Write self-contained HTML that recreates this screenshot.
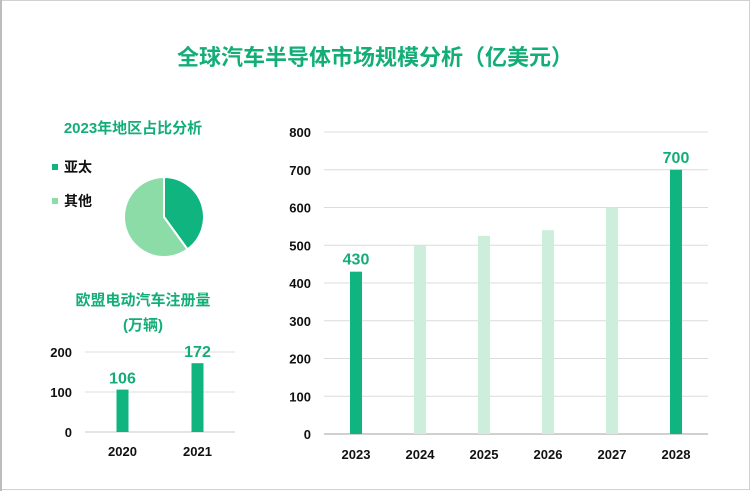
<!DOCTYPE html>
<html><head><meta charset="utf-8"><style>
body{margin:0;background:#fff;}
#wrap{position:relative;width:751px;height:491px;overflow:hidden;font-family:"Liberation Sans","Noto Sans CJK SC",sans-serif;}
</style></head><body>
<div id="wrap">
<svg id="svg" width="751" height="491" xmlns="http://www.w3.org/2000/svg" style="position:absolute;left:0;top:0">
<rect x="0.5" y="0.5" width="749" height="489" fill="#fff" stroke="#d0d0d0"/>
<rect x="0" y="0" width="2" height="491" fill="#bdbdbd"/>
<text x="375" y="65" text-anchor="middle" font-size="22" font-weight="bold" fill="#13ae78" font-family="Liberation Sans,Noto Sans CJK SC,sans-serif">全球汽车半导体市场规模分析（亿美元）</text>
<text x="133" y="133" text-anchor="middle" font-size="15" font-weight="bold" fill="#13ae78" font-family="Liberation Sans,Noto Sans CJK SC,sans-serif">2023年地区占比分析</text>
<rect x="52" y="164" width="6" height="6" fill="#10b47e"/>
<text x="64" y="172" font-size="14" font-weight="bold" fill="#111" font-family="Liberation Sans,Noto Sans CJK SC,sans-serif">亚太</text>
<rect x="52" y="198" width="6" height="6" fill="#8cdca7"/>
<text x="64" y="206" font-size="14" font-weight="bold" fill="#111" font-family="Liberation Sans,Noto Sans CJK SC,sans-serif">其他</text>
<text x="143" y="305" text-anchor="middle" font-size="15" font-weight="bold" fill="#13ae78" font-family="Liberation Sans,Noto Sans CJK SC,sans-serif">欧盟电动汽车注册量</text>
<text x="143" y="330" text-anchor="middle" font-size="15" font-weight="bold" fill="#13ae78" font-family="Liberation Sans,Noto Sans CJK SC,sans-serif">(万辆)</text>
<g id="pie"></g><g id="small"></g><g id="main"></g>
</svg>
</div>
<script>
const pieLabels=["亚太","其他"];
const pieValues=[40,60];
const smallCats=["2020","2021"];
const smallValues=[106,172];
const smallTicks=[0,100,200];
const mainCats=["2023","2024","2025","2026","2027","2028"];
const mainValues=[430,500,525,540,600,700];
const mainLabeled=[true,false,false,false,false,true];
const mainTicks=[0,100,200,300,400,500,600,700,800];
const NS="http://www.w3.org/2000/svg";
const FONT="Liberation Sans,Noto Sans CJK SC,sans-serif";
function mk(parent,tag,attrs){const e=document.createElementNS(NS,tag);for(const k in attrs)e.setAttribute(k,attrs[k]);parent.appendChild(e);return e;}
// pie
(function(){
const g=document.getElementById('pie');const cx=164,cy=217,r=40;
const colors=["#10b47e","#8cdca7"];const tot=pieValues.reduce((a,b)=>a+b,0);
let a0=0;
pieValues.forEach((v,i)=>{const a1=a0+v/tot*2*Math.PI;
const x0=cx+r*Math.sin(a0),y0=cy-r*Math.cos(a0),x1=cx+r*Math.sin(a1),y1=cy-r*Math.cos(a1);
const p=mk(g,'path',{d:`M${cx},${cy}L${x0},${y0}A${r},${r} 0 ${a1-a0>Math.PI?1:0} 1 ${x1},${y1}Z`,fill:colors[i],stroke:'#fff','stroke-width':2});


a0=a1;});
})();
// small chart
(function(){
const g=document.getElementById('small');const x0=85,x1=235,yb=432,yt=352,max=200;
const y=v=>yb-(v/max)*(yb-yt);const step=(x1-x0)/smallCats.length;const xc=i=>x0+step*(i+0.5);
smallTicks.forEach(t=>{const l=mk(g,'line',{x1:x0,x2:x1,y1:y(t),y2:y(t),stroke:t===0?'#c8c8c8':'#dcdcdc','stroke-width':1});


const tx=mk(g,'text',{x:72,y:y(t)+5,'text-anchor':'end','font-size':13,'font-weight':'bold',fill:'#111','font-family':FONT});tx.textContent=t;

});
smallCats.forEach((c,i)=>{const v=smallValues[i];
const b=mk(g,'rect',{x:xc(i)-6,y:y(v),width:12,height:yb-y(v),fill:'#10b47e'});


const lb=mk(g,'text',{x:xc(i),y:y(v)-6,'text-anchor':'middle','font-size':16,'font-weight':'bold',fill:'#13ae78','font-family':FONT});lb.textContent=v;


const xt=mk(g,'text',{x:xc(i),y:456,'text-anchor':'middle','font-size':13,'font-weight':'bold',fill:'#111','font-family':FONT});xt.textContent=c;

});
})();
// main chart
(function(){
const g=document.getElementById('main');const x0=324,x1=708,yb=434,yt=132,max=800;
const y=v=>yb-(v/max)*(yb-yt);const step=(x1-x0)/mainCats.length;const xc=i=>x0+step*(i+0.5);
mainTicks.forEach(t=>{const l=mk(g,'line',{x1:x0,x2:x1,y1:y(t),y2:y(t),stroke:t===0?'#a0a0a0':'#dcdcdc','stroke-width':1});


const tx=mk(g,'text',{x:311,y:y(t)+5,'text-anchor':'end','font-size':13,'font-weight':'bold',fill:'#111','font-family':FONT});tx.textContent=t;

});
mainCats.forEach((c,i)=>{const v=mainValues[i];
const b=mk(g,'rect',{x:xc(i)-6,y:y(v),width:12,height:yb-y(v),fill:mainLabeled[i]?'#10b47e':'#cdeedb'});


if(mainLabeled[i]){const lb=mk(g,'text',{x:xc(i),y:y(v)-7,'text-anchor':'middle','font-size':16,'font-weight':'bold',fill:'#13ae78','font-family':FONT});lb.textContent=v;

}
const xt=mk(g,'text',{x:xc(i),y:459,'text-anchor':'middle','font-size':13,'font-weight':'bold',fill:'#111','font-family':FONT});xt.textContent=c;

});
})();
</script>
</body></html>
